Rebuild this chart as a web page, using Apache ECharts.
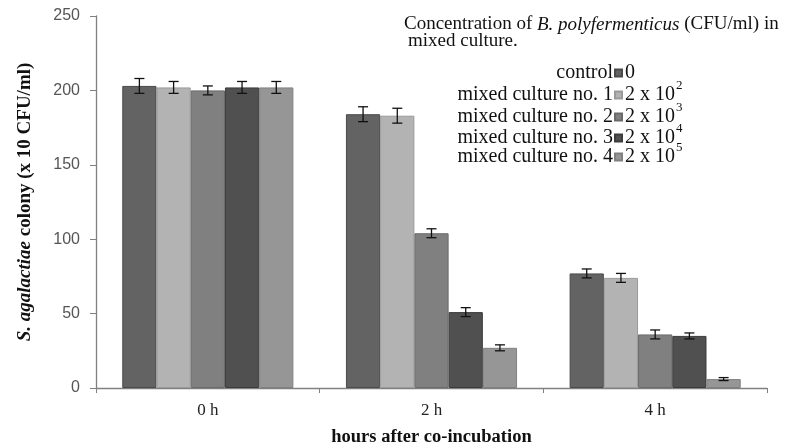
<!DOCTYPE html>
<html>
<head>
<meta charset="utf-8">
<script src="https://cdn.jsdelivr.net/npm/echarts@6/dist/echarts.min.js"></script>
<style>html,body{margin:0;padding:0;background:#fff}#c{width:786px;height:448px}</style>
</head>
<body>
<div id="c"></div>
<script>
var categories = ['0 h', '2 h', '4 h'];
var seriesNames = ['control', 'mixed culture no. 1', 'mixed culture no. 2', 'mixed culture no. 3', 'mixed culture no. 4'];
var concBase = ['0', '2 x 10', '2 x 10', '2 x 10', '2 x 10'];
var concExp = ['', '2', '3', '4', '5'];
var control = [203, 184, 77];
var controlErr = [5, 5, 3];
var mixed1 = [202, 183, 74];
var mixed1Err = [4, 5, 3];
var mixed2 = [200, 104, 36];
var mixed2Err = [3, 3, 3];
var mixed3 = [202, 51, 35];
var mixed3Err = [4, 3, 2];
var mixed4 = [202, 27, 6];
var mixed4Err = [4, 2, 1];
var yTicks = [0, 50, 100, 150, 200, 250];

var values = [control, mixed1, mixed2, mixed3, mixed4];
var errors = [controlErr, mixed1Err, mixed2Err, mixed3Err, mixed4Err];
var colors = ['#636363', '#b3b3b3', '#808080', '#505050', '#969696'];
var borders = ['#4a4a4a', '#9a9a9a', '#6a6a6a', '#3c3c3c', '#808080'];
var CAT_GAP = 0.235;
var N = values.length;

var series = [];
values.forEach(function (vals, i) {
  series.push({
    name: seriesNames[i], type: 'bar', data: vals,
    barGap: '0%', barCategoryGap: (CAT_GAP * 100) + '%',
    itemStyle: { color: colors[i], borderColor: borders[i], borderWidth: 1 },
    emphasis: { disabled: true }
  });
});
values.forEach(function (vals, i) {
  series.push({
    type: 'custom', name: seriesNames[i] + ' err', z: 10,
    data: vals.map(function (v, k) { return [k, v - errors[i][k], v + errors[i][k]]; }),
    encode: { x: 0, y: [1, 2] },
    renderItem: function (params, api) {
      var band = api.size([1, 0])[0];
      var bw = band * (1 - CAT_GAP) / N;
      var lo = api.coord([api.value(0), api.value(1)]);
      var hi = api.coord([api.value(0), api.value(2)]);
      var x = lo[0] + (i - (N - 1) / 2) * bw;
      var cap = 5;
      var st = { stroke: '#111', lineWidth: 1.3 };
      return { type: 'group', children: [
        { type: 'line', shape: { x1: x, y1: lo[1], x2: x, y2: hi[1] }, style: st },
        { type: 'line', shape: { x1: x - cap, y1: lo[1], x2: x + cap, y2: lo[1] }, style: st },
        { type: 'line', shape: { x1: x - cap, y1: hi[1], x2: x + cap, y2: hi[1] }, style: st }
      ]};
    }
  });
});

var serif = '"Liberation Serif", "Times New Roman", serif';
var legends = [];
var graphics = [];
var rowY = [73, 95, 117, 138, 157];
seriesNames.forEach(function (n, i) {
  legends.push({
    data: [n], align: 'right', orient: 'vertical', right: 163, top: rowY[i] - 10, padding: 0,
    itemWidth: 7, itemHeight: 7, icon: 'rect', selectedMode: false,
    textStyle: { fontFamily: serif, fontSize: 20, color: '#111', padding: [0, -3, 0, 0] }
  });
  graphics.push({ type: 'text', left: 625, top: rowY[i] - 10,
    style: { text: concBase[i], font: '20px ' + serif, fill: '#111' } });
  if (concExp[i]) {
    graphics.push({ type: 'text', left: 676, top: rowY[i] - 16,
      style: { text: concExp[i], font: '13px ' + serif, fill: '#111' } });
  }
});
graphics.push({ type: 'text', left: 404, top: 15,
  style: { text: '{n|Concentration of }{i|B. polyfermenticus}{n| (CFU/ml) in}',
    rich: { n: { font: '19px ' + serif, fill: '#111' }, i: { font: 'italic 19px ' + serif, fill: '#111' } } } });
graphics.push({ type: 'text', left: 408, top: 32,
  style: { text: 'mixed culture.', font: '19px ' + serif, fill: '#111' } });

var chart = echarts.init(document.getElementById('c'));
chart.setOption({
  animation: false,
  backgroundColor: '#fff',
  grid: { left: 96, right: 19, top: 16, bottom: 60, containLabel: false, outerBoundsMode: 'none' },
  legend: legends,
  graphic: graphics,
  xAxis: {
    type: 'category', data: categories,
    axisLine: { lineStyle: { color: '#808080', width: 1.3 } },
    axisTick: { show: true, length: 5, inside: false, lineStyle: { color: '#808080' } },
    axisLabel: { fontFamily: serif, fontSize: 17, color: '#222', margin: 14 },
    name: 'hours after co-incubation', nameLocation: 'middle', nameGap: 40,
    nameTextStyle: { fontFamily: serif, fontSize: 18.5, fontWeight: 'bold', color: '#111' }
  },
  yAxis: {
    type: 'value', min: yTicks[0], max: yTicks[yTicks.length - 1], interval: 50,
    splitLine: { show: false },
    axisLine: { show: true, lineStyle: { color: '#808080', width: 1.3 } },
    axisTick: { show: true, length: 6, lineStyle: { color: '#808080' } },
    axisLabel: { fontFamily: '"Liberation Sans", Arial, sans-serif', fontSize: 16, color: '#555', margin: 16 },
    name: '{i|S. agalactiae} colony (x 10 CFU/ml)', nameLocation: 'middle', nameGap: 61, nameRotate: 90,
    nameTextStyle: { fontFamily: serif, fontSize: 19, fontWeight: 'bold', color: '#111',
      rich: { i: { fontFamily: serif, fontSize: 19, fontWeight: 'bold', fontStyle: 'italic', color: '#111' } } }
  },
  series: series
});
</script>
</body>
</html>
